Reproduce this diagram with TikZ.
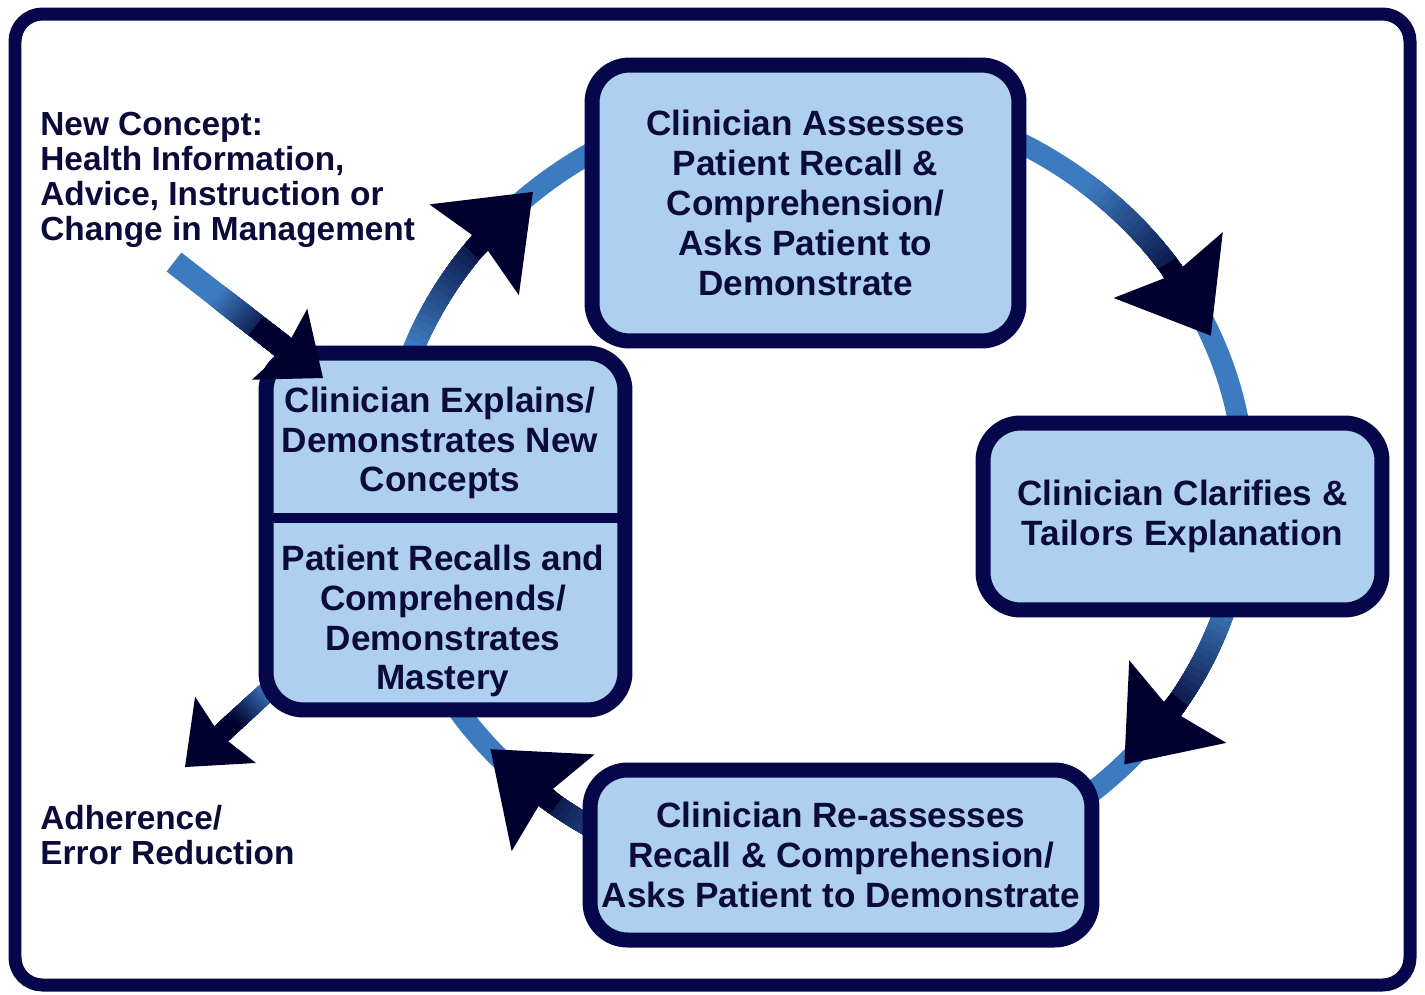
\documentclass[tikz,border=0pt]{standalone}
\usepackage{fontspec}
\setmainfont{Liberation Sans}
\usetikzlibrary{arrows.meta,calc}

\definecolor{bordernavy}{HTML}{06064A}
\definecolor{boxfill}{HTML}{AED0EE}
\definecolor{ringblue}{HTML}{3D7BC0}
\definecolor{tipnavy}{HTML}{00002E}
\definecolor{inknavy}{HTML}{0B0B3A}

\tikzset{
  box/.style={draw=bordernavy, fill=boxfill, line width=0.3cm, rounded corners=0.75cm,
    align=center, text=inknavy, inner sep=0pt, font=\fontsize{20}{22.7}\selectfont\bfseries},
  boxtext/.style={align=center, text=inknavy, inner sep=0pt, font=\fontsize{20}{22.7}\selectfont\bfseries},
  sidetext/.style={align=left, anchor=west, text=inknavy, inner sep=0pt, font=\fontsize{19}{19.9}\selectfont\bfseries},
  ring/.style={draw=ringblue, line width=0.42cm},
  bigtip/.style={draw=tipnavy, line width=0.42cm, -{Stealth[length=1.65cm, width=2.55cm, inset=0.22cm, line width=0pt]}},
  smalltip/.style={draw=tipnavy, line width=0.45cm, -{Stealth[length=1.1cm, width=1.8cm, inset=0.15cm, line width=0pt]}},
}

\begin{document}
\begin{tikzpicture}[x=0.02cm, y=-0.02cm]
	\useasboundingbox (0,0) rectangle (1425,994);
	% Frame
	\draw [draw=bordernavy, line width=0.26cm, rounded corners=0.55cm] (15,14) rectangle (1410,985);

	% Ring behind the boxes
	\coordinate (ring) at (815,490);
	\draw [ring] (ring) ellipse [x radius=8.6cm, y radius=7.9cm];
	\foreach \s/\n in {-131/A, -23/B, 44/C, 139/D} {
		\foreach \i in {0,...,20} {
			\pgfmathsetmacro\a{\s-28+1*\i}
			\pgfmathsetmacro\b{\s-6}
			\pgfmathtruncatemacro\p{5*\i}
			\draw [line width=0.42cm, draw=tipnavy!\p!ringblue] plot [domain=\a:\b, samples=12] ({815+430*cos(\x)},{490+395*sin(\x)});
		}
		\coordinate (base\n) at ({815+430*cos(\s-12)},{490+395*sin(\s-12)});
		\coordinate (tip\n) at ({815+430*cos(\s)},{490+395*sin(\s)});
		\draw [bigtip] (base\n) -- (tip\n);
	}

	% Outcome arrow
	\coordinate (adhstart) at (282,678);
	\coordinate (adhtip) at (185,767);
	\draw [ring, line width=0.4cm] (adhstart) -- ($(adhstart)!0.75!(adhtip)$);
	\foreach \i in {0,...,20} {
		\pgfmathtruncatemacro\p{5*\i}
		\draw [line width=0.4cm, draw=tipnavy!\p!ringblue] ($(adhstart)!{0.12+0.018*\i}!(adhtip)$) -- ($(adhstart)!0.75!(adhtip)$);
	}
	\draw [smalltip, line width=0.4cm] ($(adhstart)!0.5!(adhtip)$) -- (adhtip);

	% Place nodes
	\node [box, minimum width=8.54cm, minimum height=5.52cm] (assess) at (805.5,203)
		{Clinician Assesses\\Patient Recall \&\\Comprehension/\\Asks Patient to\\Demonstrate};
	\node [box, minimum width=7.98cm, minimum height=3.74cm] (clarify) at (1182.5,516.5)
		{Clinician Clarifies \&\\Tailors Explanation};
	\node [box, minimum width=10.04cm, minimum height=3.4cm] (reassess) at (841,855)
		{Clinician Re-assesses\\Recall \& Comprehension/\\Asks Patient to Demonstrate};
	\node [box, minimum width=7.18cm, minimum height=7.14cm] (leftbox) at (445.5,531.5) {};
	\node [boxtext] (explain) at (440,443) {Clinician Explains/\\Demonstrates New\\Concepts};
	\node [boxtext] (recall) at (443,621) {Patient Recalls and\\Comprehends/\\Demonstrates\\Mastery};
	\draw [draw=bordernavy, line width=0.2cm] (leftbox.west |- 0,518) -- (leftbox.east |- 0,518);

	\node [sidetext] (concept) at (40,180)
		{New Concept:\\Health Information,\\Advice, Instruction or\\Change in Management};
	\node [sidetext] (adherence) at (40,835) {Adherence/\\Error Reduction};

	% Input arrow
	\coordinate (ncstart) at (174,262);
	\coordinate (nctip) at (323,378);
	\draw [ring, line width=0.48cm] (ncstart) -- ($(ncstart)!0.8!(nctip)$);
	\foreach \i in {0,...,20} {
		\pgfmathtruncatemacro\p{5*\i}
		\draw [line width=0.48cm, draw=tipnavy!\p!ringblue] ($(ncstart)!{0.28+0.018*\i}!(nctip)$) -- ($(ncstart)!0.8!(nctip)$);
	}
	\draw [smalltip] ($(ncstart)!0.55!(nctip)$) -- (nctip);
\end{tikzpicture}
\end{document}
